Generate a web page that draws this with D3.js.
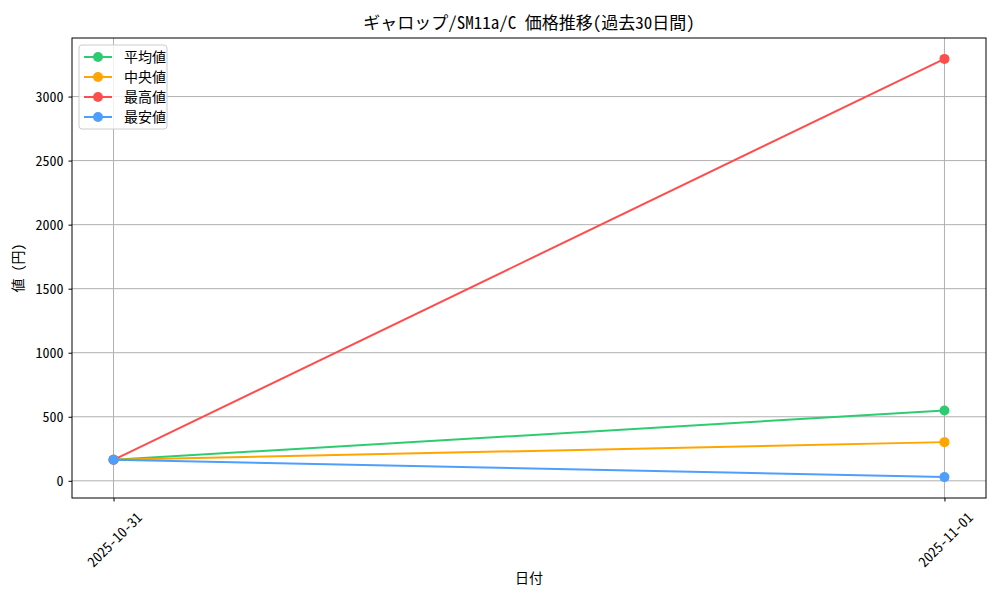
<!DOCTYPE html>
<html>
<head>
<meta charset="utf-8">
<script src="https://cdn.jsdelivr.net/npm/d3@7"></script>
<style>
  body { margin: 0; background: #fff; }
  text { font-family: "Noto Sans Mono CJK JP", "Noto Sans CJK JP", sans-serif; fill: #000; }
</style>
</head>
<body>
<svg id="chart" width="1000" height="600"></svg>
<script>
// data
var dates = ['2025-10-31', '2025-11-01'];
var avgVals = [164, 549];
var medVals = [164, 302];
var maxVals = [164, 3294];
var minVals = [164, 29];
var yTicks = [0, 500, 1000, 1500, 2000, 2500, 3000];

var series = [
  { name: '平均値', values: avgVals, color: '#2ecc71' },
  { name: '中央値', values: medVals, color: '#ffa500' },
  { name: '最高値', values: maxVals, color: '#ff4d4d' },
  { name: '最安値', values: minVals, color: '#4d9fff' }
];

var FONT = '"Noto Sans Mono CJK JP", "Noto Sans CJK JP", sans-serif';
var plotL = 72, plotR = 986, plotT = 38, plotB = 498;

var svg = d3.select('#chart');

var x = d3.scaleLinear()
    .domain([-0.05, dates.length - 1 + 0.05])
    .range([plotL, plotR]);

var allVals = d3.merge(series.map(function (s) { return s.values; }));
var lo = d3.min(allVals), hi = d3.max(allVals), pad = (hi - lo) * 0.05;
var y = d3.scaleLinear()
    .domain([lo - pad, hi + pad])
    .range([plotB, plotT]);

//// grid
var grid = svg.append('g').attr('stroke', '#b0b0b0').attr('stroke-width', 1);
grid.selectAll('.gy').data(yTicks).enter()
  .append('line')
      .attr('x1', plotL).attr('x2', plotR)
      .attr('y1', function (d) { return y(d); })
      .attr('y2', function (d) { return y(d); });
grid.selectAll('.gx').data(dates).enter()
  .append('line')
      .attr('y1', plotT).attr('y2', plotB)
      .attr('x1', function (d, i) { return x(i); })
      .attr('x2', function (d, i) { return x(i); });

//// axes
var yAxis = svg.append('g')
    .attr('transform', 'translate(' + plotL + ',0)')
    .call(d3.axisLeft(y).tickValues(yTicks).tickSize(3.5).tickPadding(5).tickFormat(d3.format('d')));
yAxis.select('.domain').remove();
yAxis.selectAll('text').attr('font-size', 14).style('font-family', FONT);

var xAxis = svg.append('g')
    .attr('transform', 'translate(0,' + plotB + ')')
    .call(d3.axisBottom(x).tickValues(d3.range(dates.length)).tickSize(3.5).tickFormat(function (i) { return dates[i]; }));
xAxis.select('.domain').remove();
xAxis.selectAll('text')
    .attr('font-size', 14)
    .style('font-family', FONT)
    .attr('text-anchor', 'middle')
    .attr('dominant-baseline', 'central')
    .attr('y', 0)
    .attr('dy', 0)
    .attr('transform', 'translate(0,41) rotate(-45)');

//// lines + markers
var line = d3.line()
    .x(function (d, i) { return x(i); })
    .y(function (d) { return y(d); });

series.forEach(function (s) {
  svg.append('path')
      .attr('d', line(s.values))
      .attr('fill', 'none')
      .attr('stroke', s.color)
      .attr('stroke-width', 2);
  svg.selectAll(null).data(s.values).enter()
    .append('circle')
        .attr('cx', function (d, i) { return x(i); })
        .attr('cy', function (d) { return y(d); })
        .attr('r', 5)
        .attr('fill', s.color);
});

// frame
svg.append('rect')
    .attr('x', plotL).attr('y', plotT)
    .attr('width', plotR - plotL).attr('height', plotB - plotT)
    .attr('fill', 'none').attr('stroke', '#000').attr('stroke-width', 1);

//// legend
var legend = svg.append('g').attr('transform', 'translate(79,45)');
legend.append('rect')
    .attr('width', 88).attr('height', 84).attr('rx', 3)
    .attr('fill', 'rgba(255,255,255,0.8)').attr('stroke', '#ccc');
series.forEach(function (s, i) {
  var g = legend.append('g').attr('transform', 'translate(0,' + (12 + i * 20) + ')');
  g.append('line').attr('x1', 5).attr('x2', 33).attr('stroke', s.color).attr('stroke-width', 2);
  g.append('circle').attr('cx', 19).attr('r', 5).attr('fill', s.color);
  g.append('text').attr('x', 45).attr('dy', '0.35em').attr('font-size', 14).text(s.name);
});

//// labels
svg.append('text')
    .attr('x', (plotL + plotR) / 2).attr('y', 29)
    .attr('text-anchor', 'middle').attr('font-size', 17)
    .text('ギャロップ/SM11a/C 価格推移(過去30日間)');
svg.append('text')
    .attr('x', (plotL + plotR) / 2).attr('y', 583)
    .attr('text-anchor', 'middle').attr('font-size', 14)
    .text('日付');
svg.append('text')
    .attr('transform', 'translate(23,' + ((plotT + plotB) / 2) + ') rotate(-90)')
    .attr('text-anchor', 'middle').attr('font-size', 14)
    .text('値 (円)');
</script>
</body>
</html>
